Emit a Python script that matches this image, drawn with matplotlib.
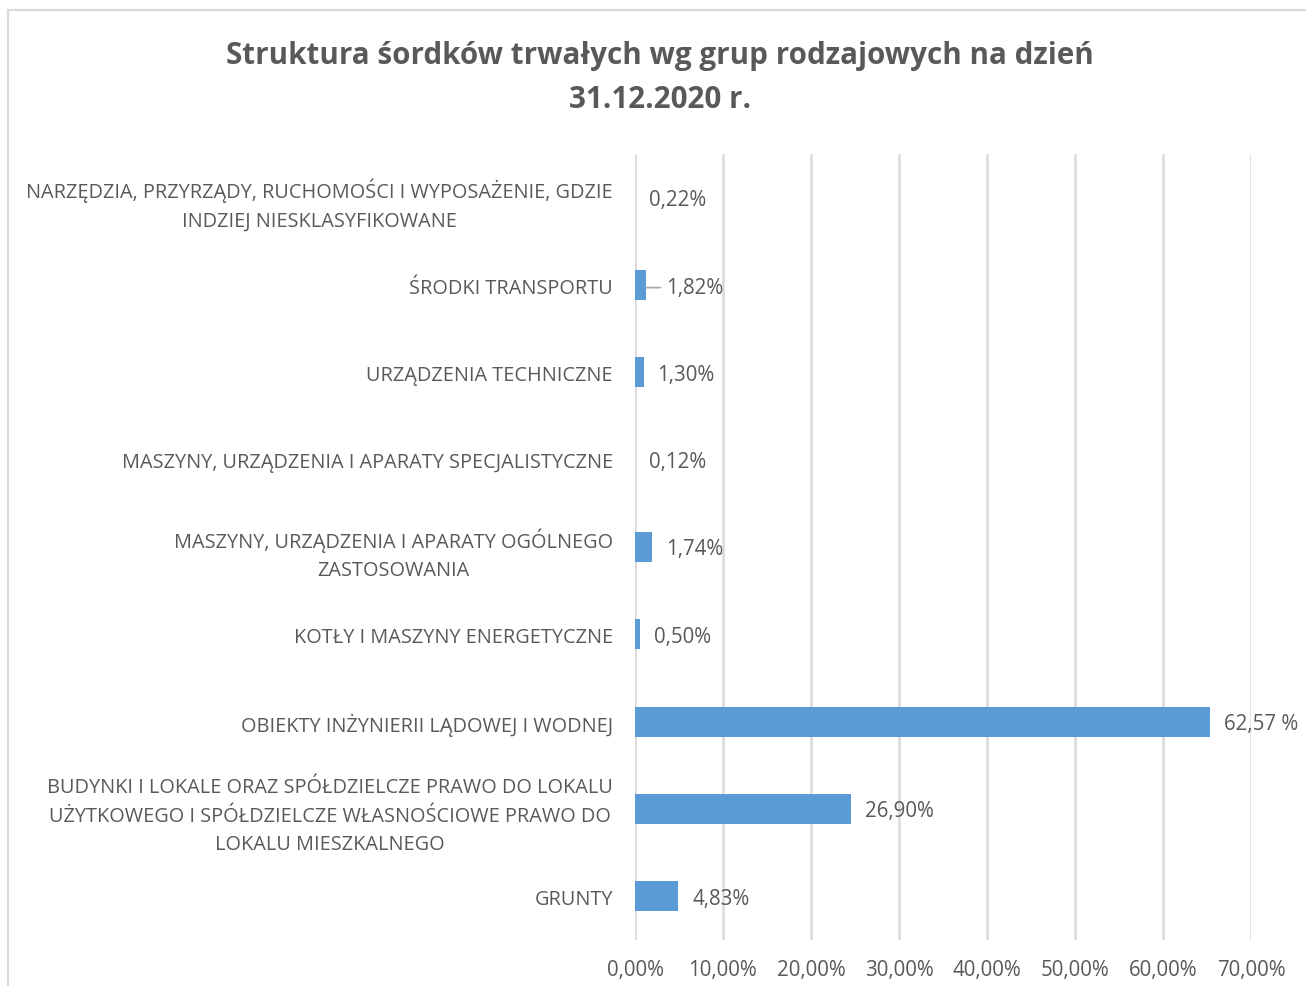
import matplotlib.pyplot as plt
from matplotlib.lines import Line2D

# ── data ───────────────────────────────────────────────────────────────────
categories = [
    "NARZĘDZIA, PRZYRZĄDY, RUCHOMOŚCI I WYPOSAŻENIE, GDZIE\nINDZIEJ NIESKLASYFIKOWANE",
    "ŚRODKI TRANSPORTU",
    "URZĄDZENIA TECHNICZNE",
    "MASZYNY, URZĄDZENIA I APARATY SPECJALISTYCZNE",
    "MASZYNY, URZĄDZENIA I APARATY OGÓLNEGO\nZASTOSOWANIA",
    "KOTŁY I MASZYNY ENERGETYCZNE",
    "OBIEKTY INŻYNIERII LĄDOWEJ I WODNEJ",
    "BUDYNKI I LOKALE ORAZ SPÓŁDZIELCZE PRAWO DO LOKALU\nUŻYTKOWEGO I SPÓŁDZIELCZE WŁASNOŚCIOWE PRAWO DO\nLOKALU MIESZKALNEGO",
    "GRUNTY",
]
# bar lengths as drawn (%)
bar_values = [0.0, 1.25, 0.98, 0.0, 1.97, 0.57, 65.3, 24.5, 4.92]
# data labels as printed in the chart
value_labels = ["0,22%", "1,82%", "1,30%", "0,12%", "1,74%", "0,50%",
                "62,57 %", "26,90%", "4,83%"]
x_ticks = [0, 10, 20, 30, 40, 50, 60, 70]
x_ticklabels = ["0,00%", "10,00%", "20,00%", "30,00%", "40,00%",
                "50,00%", "60,00%", "70,00%"]

TITLE = "Struktura śordków trwałych wg grup rodzajowych na dzień\n31.12.2020 r."

# ── style ──────────────────────────────────────────────────────────────────
FONT  = "Open Sans"
TEXT  = "#595959"
GRID  = "#d9d9d9"
BAR   = "#5b9bd5"
W, H  = 1306, 987

plt.rcParams["font.family"] = [FONT, "DejaVu Sans"]

fig = plt.figure(figsize=(W / 100, H / 100), dpi=100)
ax  = fig.add_axes([635 / W, 1 - 941 / H, (1251 - 635) / W, (941 - 155) / H])

# chart frame (cut off at right/bottom like the screenshot)
fig.add_artist(Line2D([8 / W, 1], [1 - 11 / H, 1 - 11 / H], color=GRID, lw=1.5,
                      transform=fig.transFigure))
fig.add_artist(Line2D([8 / W, 8 / W], [0, 1 - 11 / H], color=GRID, lw=1.5,
                      transform=fig.transFigure))

y = list(range(len(categories)))
ax.barh(y, bar_values, height=0.34, color=BAR, zorder=3)

ax.set_xlim(0, 70)
ax.set_ylim(len(categories) - 0.5, -0.5)
ax.set_xticks(x_ticks)
ax.set_xticklabels(x_ticklabels, fontsize=14.8, color=TEXT)
ax.set_yticks(y)
ax.set_yticklabels(categories, fontsize=14.3, color=TEXT, linespacing=1.57)
for t in ax.get_yticklabels():
    t.set_multialignment("center")
ax.tick_params(axis="both", length=0)
ax.tick_params(axis="y", pad=16)
ax.tick_params(axis="x", pad=14)

ax.grid(axis="x", color=GRID, lw=1.8, zorder=0)
ax.set_axisbelow(True)
for s in ax.spines.values():
    s.set_visible(False)

# data labels
for i, (v, lab) in enumerate(zip(bar_values, value_labels)):
    if i == 1:
        # label pushed out with a horizontal leader line
        ax.annotate(lab, xy=(v, i + 0.03), xytext=(20, 0), textcoords="offset pixels",
                    ha="left", va="center", fontsize=14.8, color=TEXT,
                    arrowprops=dict(arrowstyle="-", color="#a6a6a6", lw=1.2,
                                    shrinkA=2, shrinkB=0))
    else:
        ax.annotate(lab, xy=(v, i), xytext=(14, -2), textcoords="offset pixels",
                    ha="left", va="center", fontsize=14.8, color=TEXT,
                    annotation_clip=False)

fig.text(660 / W, 1 - 78 / H, TITLE, ha="center", va="center", fontsize=21.3,
         fontweight="bold", color=TEXT, linespacing=1.6)

fig.savefig("out.png", dpi=100)
